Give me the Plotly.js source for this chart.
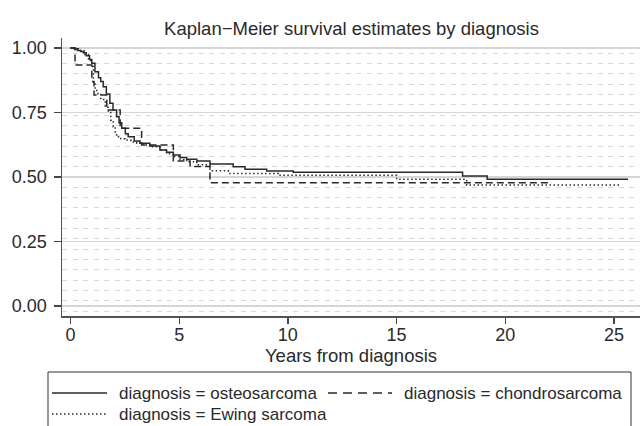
<!DOCTYPE html>
<html><head><meta charset="utf-8">
<script src="https://cdn.plot.ly/plotly-3.0.1.min.js"></script>
<style>html,body{margin:0;padding:0;background:#fff}#chart{width:642px;height:426px}</style>
</head><body><div id="chart"></div>
<script>
// Kaplan-Meier step data (time in years, survival)
const osteoTime = [0, 0.158, 0.312, 0.466, 0.589, 0.723, 0.877, 0.98, 1.124, 1.288, 1.391, 1.504, 1.648, 1.812, 1.956, 2.121, 2.234, 2.357, 2.522, 2.655, 2.933, 3.2, 3.652, 4.114, 4.422, 4.731, 5.039, 5.347, 5.81, 6.416, 7.485, 8.03, 9.026, 10.249, 18.038, 19.169, 25.65];
const osteoSurv = [1.0, 0.997, 0.99, 0.986, 0.982, 0.97, 0.955, 0.941, 0.908, 0.885, 0.87, 0.85, 0.822, 0.786, 0.76, 0.734, 0.71, 0.689, 0.668, 0.656, 0.64, 0.631, 0.62, 0.605, 0.596, 0.585, 0.576, 0.569, 0.562, 0.550, 0.540, 0.530, 0.523, 0.518, 0.504, 0.491, 0.491];

const chondroTime = [0, 0.209, 0.98, 1.083, 1.668, 2.285, 3.272, 4.731, 5.502, 6.416, 22.15];
const chondroSurv = [1.0, 0.934, 0.87, 0.818, 0.76, 0.689, 0.624, 0.562, 0.541, 0.478, 0.478];

const ewingTime = [0, 0.363, 0.62, 0.826, 0.928, 0.98, 1.052, 1.134, 1.206, 1.391, 1.597, 1.74, 1.853, 1.966, 2.059, 2.121, 2.316, 2.511, 2.778, 3.045, 3.343, 3.652, 4.114, 4.422, 4.731, 5.039, 5.347, 5.81, 6.416, 7.259, 9.561, 15.007, 18.223, 25.28];
const ewingSurv = [1.0, 0.99, 0.975, 0.955, 0.94, 0.928, 0.863, 0.84, 0.824, 0.80, 0.77, 0.753, 0.72, 0.695, 0.67, 0.656, 0.648, 0.643, 0.636, 0.631, 0.624, 0.617, 0.605, 0.59, 0.579, 0.568, 0.559, 0.547, 0.524, 0.514, 0.507, 0.491, 0.469, 0.469];

const seriesNames = ['diagnosis = osteosarcoma', 'diagnosis = chondrosarcoma', 'diagnosis = Ewing sarcoma'];
const xTicks = [0, 5, 10, 15, 20, 25];
const yTicks = [0, 0.25, 0.5, 0.75, 1];
const yTickText = ['0.00', '0.25', '0.50', '0.75', '1.00'];
const yMinorGrid = [0.98, 0.94, 0.90, 0.86, 0.82, 0.78, 0.74, 0.70, 0.66, 0.62, 0.58, 0.54, 0.46, 0.42, 0.38, 0.34, 0.30, 0.26, 0.22, 0.18, 0.14, 0.10, 0.06, 0.02, -0.02];

const font = '"Liberation Sans", Arial, Helvetica, sans-serif';
const ink = '#2a2a2a';
const dashes = ['solid', '7px,4px', '1.5px,2.5px'];
const legendDashes = ['solid', '9px,6px', '1.5px,2.5px'];

// plot-area geometry (pixels) used to place the hand-built legend
const W = 642, H = 426, M = {l: 62, r: 2, t: 38, b: 110};
const pw = W - M.l - M.r, ph = H - M.t - M.b;
const px = v => (v - M.l) / pw;
const py = v => (H - M.b - v) / ph;

const traces = seriesNames.map((nm, i) => ({
  x: [osteoTime, chondroTime, ewingTime][i],
  y: [osteoSurv, chondroSurv, ewingSurv][i],
  name: nm, mode: 'lines', showlegend: false,
  line: {shape: 'hv', color: ink, width: 1.5, dash: dashes[i]}
}));

// legend entries: [sample x0, sample x1, text x, row y]
const legendPos = [[52, 107, 117, 393], [328, 392, 402, 393], [52, 107, 117, 414]];
const shapes = [{type: 'rect', xref: 'paper', yref: 'paper', x0: px(48), x1: px(631), y0: py(440), y1: py(372), line: {color: '#333', width: 1}, fillcolor: 'rgba(0,0,0,0)', layer: 'above'}];
const annotations = [];
legendPos.forEach((p, i) => {
  shapes.push({type: 'line', xref: 'paper', yref: 'paper', x0: px(p[0]), x1: px(p[1]), y0: py(p[3]), y1: py(p[3]), line: {color: ink, width: 1.3, dash: legendDashes[i]}});
  annotations.push({xref: 'paper', yref: 'paper', x: px(p[2]), y: py(p[3]), xanchor: 'left', yanchor: 'middle', showarrow: false, text: seriesNames[i], font: {size: 17, color: ink}});
});

const layout = {
  width: W, height: H,
  margin: M,
  paper_bgcolor: '#ffffff', plot_bgcolor: '#ffffff',
  font: {family: font, size: 18, color: ink},
  title: {text: 'Kaplan\u2212Meier survival estimates by diagnosis', x: 0.5475, xanchor: 'center', xref: 'container', y: 0.934, yanchor: 'middle', yref: 'container', font: {size: 18.5, color: ink}},
  xaxis: {
    range: [-0.391, 26.2], tickmode: 'array', tickvals: xTicks,
    ticks: 'outside', ticklen: 6, tickwidth: 1.3, tickcolor: '#444',
    showline: true, linecolor: '#555', linewidth: 1.5, showgrid: false, zeroline: false,
    tickfont: {size: 18}, ticklabelstandoff: -4,
    title: {text: 'Years from diagnosis', font: {size: 18.5}, standoff: 3}
  },
  yaxis: {
    range: [-0.0388, 1.0388], tickmode: 'array', tickvals: yTicks, ticktext: yTickText,
    ticks: 'outside', ticklen: 7, tickwidth: 1.3, tickcolor: '#444',
    showline: true, linecolor: '#555', linewidth: 1.5,
    showgrid: true, gridcolor: '#d6d6d6', gridwidth: 1.3, zeroline: false,
    tickfont: {size: 18}, ticklabelstandoff: 3,
    minor: {tickmode: 'array', tickvals: yMinorGrid, showgrid: true, gridcolor: '#d9d9d9', gridwidth: 1, griddash: '5px,5.5px', ticks: ''}
  },
  showlegend: false,
  shapes: shapes,
  annotations: annotations
};

Plotly.newPlot('chart', traces, layout, {displayModeBar: false, staticPlot: true});
</script></body></html>
